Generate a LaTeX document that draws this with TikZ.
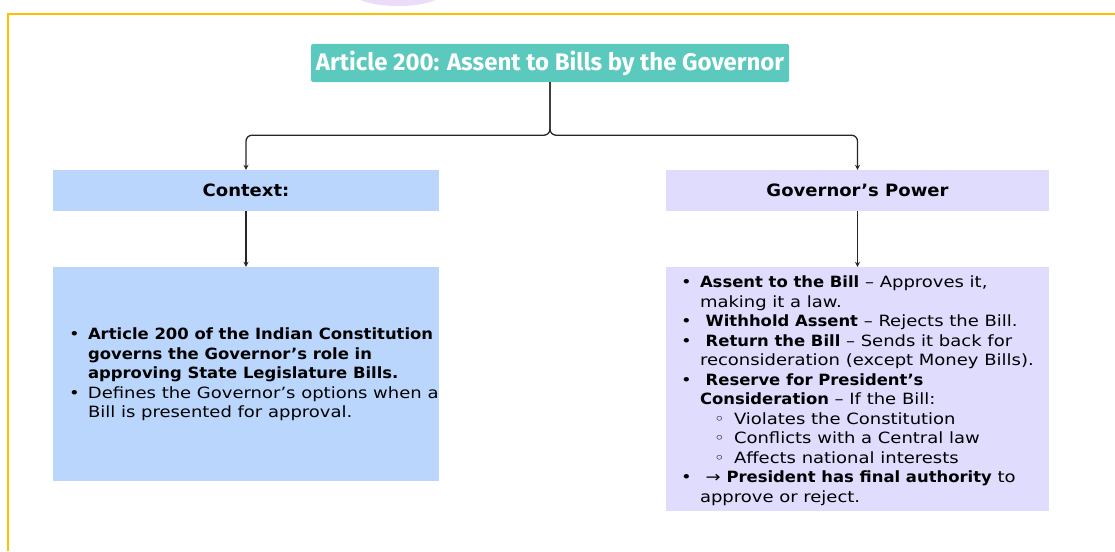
\documentclass[tikz,border=0pt]{standalone}
\usepackage{fontspec}
\setmainfont{DejaVu Sans}[FakeStretch=1.16, BoldFont={DejaVu Sans Bold}, BoldFeatures={FakeStretch=1.06}]
\newfontfamily\titlefont{Fira Sans}
\usetikzlibrary{arrows.meta}

\definecolor{framec}{HTML}{FFC000}
\definecolor{blobc}{HTML}{EBDDF8}
\definecolor{titlec}{HTML}{5BC9BE}
\definecolor{ctxc}{HTML}{BAD6FC}
\definecolor{powc}{HTML}{E0DCFD}

\newcommand{\bul}{\makebox[15pt][l]{\hspace*{-4pt}\textbullet}}
\newcommand{\subbul}{\hspace*{32pt}\makebox[17pt][l]{\hspace*{-3pt}◦}}

\tikzset{
  box/.style={inner sep=0pt},
  head/.style={box, minimum height=41pt, font=\fontsize{17}{20}\selectfont\bfseries},
  bodytext/.style={inner sep=0pt, align=left, font=\fontsize{15.5}{19.5}\selectfont},
  link/.style={draw=black!85, line width=1.3pt, -{Stealth[length=5pt,width=5pt]}}
}

\begin{document}
\begin{tikzpicture}[x=1pt,y=-1pt]
\useasboundingbox (0,0) rectangle (1115,551);

% frame
\fill[blobc] (398,-6) ellipse (43 and 12);
\draw[framec, line width=2pt] (8,551) -- (8,14) -- (1115,14);

% title
\node[box, fill=titlec, rounded corners=1.5pt, minimum width=478pt, minimum height=38pt,
  text=white, font=\titlefont\fontsize{24}{28}\selectfont\bfseries] (title) at (550,63)
  {Article 200: Assent to Bills by the Governor};

% headings
\node[head, fill=ctxc, minimum width=386pt] (ctx) at (246,190.5) {Context:};
\node[head, fill=powc, minimum width=383pt] (pow) at (857.5,190.5) {Governor’s Power};

% contents
\node[box, fill=ctxc, minimum width=386pt, minimum height=214pt] (ctxbox) at (246,374) {};
\node[bodytext, anchor=west] (ctxtxt) at ([xshift=20pt,yshift=-0.5pt]ctxbox.west) {%
\bul\textbf{Article 200 of the Indian Constitution}\\
\hspace*{15pt}\textbf{governs the Governor’s role in}\\
\hspace*{15pt}\textbf{approving State Legislature Bills.}\\
\bul Defines the Governor’s options when a\\
\hspace*{15pt}Bill is presented for approval.};

\node[box, fill=powc, minimum width=383pt, minimum height=244pt] (powbox) at (857.5,389) {};
\node[bodytext, anchor=west] (powtxt) at ([xshift=19pt,yshift=-1.5pt]powbox.west) {%
\bul\textbf{Assent to the Bill} – Approves it,\\
\hspace*{15pt}making it a law.\\
\bul\ \textbf{Withhold Assent} – Rejects the Bill.\\
\bul\ \textbf{Return the Bill} – Sends it back for\\
\hspace*{15pt}reconsideration (except Money Bills).\\
\bul\ \textbf{Reserve for President’s}\\
\hspace*{15pt}\textbf{Consideration} – If the Bill:\\
\subbul Violates the Constitution\\
\subbul Conflicts with a Central law\\
\subbul Affects national interests\\
\bul\ → \textbf{President has final authority} to\\
\hspace*{15pt}approve or reject.};

% connectors
\draw[link, rounded corners=6pt] (title.south) -- ++(0,53) -| (ctx.north);
\draw[link, rounded corners=6pt] (title.south) -- ++(0,53) -| (pow.north);
\draw[link] (ctx.south) -- (ctxbox.north);
\draw[link] (pow.south) -- (powbox.north);
\end{tikzpicture}
\end{document}
